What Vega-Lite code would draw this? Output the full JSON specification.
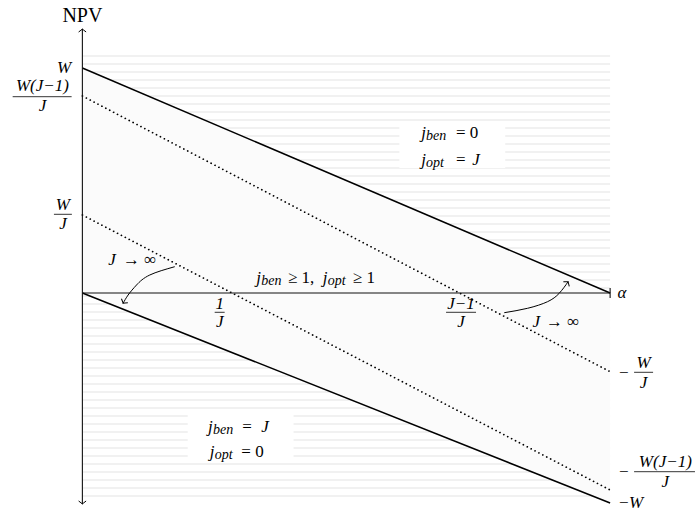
{
"$schema": "https://vega.github.io/schema/vega-lite/v6.json",
"width": 696, "height": 513,
"autosize": {"type": "fit", "contains": "padding"},
"padding": 0,
"background": "white",
"config": {"view": {"stroke": null}},
"datasets": {
"stripes": [{"a":0,"a2":1,"v":237},{"a":0,"a2":1,"v":229},{"a":0,"a2":1,"v":221},{"a":0,"a2":1,"v":213},{"a":0,"a2":1,"v":205},{"a":0,"a2":1,"v":197},{"a":0,"a2":1,"v":189},{"a":0,"a2":1,"v":181},{"a":0,"a2":1,"v":173},{"a":0,"a2":1,"v":165},{"a":0,"a2":1,"v":157},{"a":0,"a2":1,"v":149},{"a":0,"a2":1,"v":141},{"a":0,"a2":1,"v":133},{"a":0,"a2":1,"v":125},{"a":0,"a2":1,"v":117},{"a":0,"a2":1,"v":109},{"a":0,"a2":1,"v":101},{"a":0,"a2":1,"v":93},{"a":0,"a2":1,"v":85},{"a":0,"a2":1,"v":77},{"a":0,"a2":1,"v":69},{"a":0,"a2":1,"v":61},{"a":0,"a2":1,"v":53},{"a":0,"a2":1,"v":45},{"a":0,"a2":1,"v":37},{"a":0,"a2":1,"v":29},{"a":0,"a2":1,"v":21},{"a":0,"a2":1,"v":13},{"a":0,"a2":1,"v":5},{"a":0,"a2":1,"v":-3},{"a":0,"a2":1,"v":-11},{"a":0,"a2":1,"v":-19},{"a":0,"a2":1,"v":-27},{"a":0,"a2":1,"v":-35},{"a":0,"a2":1,"v":-43},{"a":0,"a2":1,"v":-51},{"a":0,"a2":1,"v":-59},{"a":0,"a2":1,"v":-67},{"a":0,"a2":1,"v":-75},{"a":0,"a2":1,"v":-83},{"a":0,"a2":1,"v":-91},{"a":0,"a2":1,"v":-99},{"a":0,"a2":1,"v":-107},{"a":0,"a2":1,"v":-115},{"a":0,"a2":1,"v":-123},{"a":0,"a2":1,"v":-131},{"a":0,"a2":1,"v":-139},{"a":0,"a2":1,"v":-147},{"a":0,"a2":1,"v":-155},{"a":0,"a2":1,"v":-163},{"a":0,"a2":1,"v":-171},{"a":0,"a2":1,"v":-179},{"a":0,"a2":1,"v":-187},{"a":0,"a2":1,"v":-195},{"a":0,"a2":1,"v":-203}],
"region": [{"a":0,"v":225,"v2":0},{"a":1,"v":0,"v2":-210}],
"boxes": [{"a":0.6007,"a2":0.8013,"v":168,"v2":125},{"a":0.1996,"a2":0.4002,"v":-119,"v2":-170}],
"solid": [{"id":"top","a":0,"v":225},{"id":"top","a":1,"v":0},{"id":"bottom","a":0,"v":0},{"id":"bottom","a":1,"v":-210}],
"dotted": [{"id":"d1","a":0,"v":197},{"id":"d1","a":1,"v":-78.7},{"id":"d2","a":0,"v":78},{"id":"d2","a":1,"v":-197}],
"axes": [{"a":0,"a2":1,"v":0,"v2":0},{"a":0,"a2":0,"v":264,"v2":-211},{"a":1,"a2":1,"v":5,"v2":-5}],
"curves": [
{"id":"L","i":0,"a":0.1750,"v":26.3},{"id":"L","i":1,"a":0.1277,"v":18},{"id":"L","i":2,"a":0.1026,"v":8},{"id":"L","i":3,"a":0.0867,"v":-2},{"id":"L","i":4,"a":0.0772,"v":-10.3},
{"id":"R","i":0,"a":0.7994,"v":-19.7},{"id":"R","i":1,"a":0.8435,"v":-15.3},{"id":"R","i":2,"a":0.8814,"v":-8.7},{"id":"R","i":3,"a":0.9035,"v":-0.3},{"id":"R","i":4,"a":0.9205,"v":11.3}],
"headUp": [{"a":0,"v":264}],
"headDown": [{"a":0,"v":-211}],
"headL": [{"a":0.0772,"v":-10.3}],
"headR": [{"a":0.9205,"v":11.3}],
"italL": [
{"a":0.6419,"v":160,"t":"j"},
{"a":0.6419,"v":133,"t":"j"},{"a":0.7389,"v":133,"t":"J"},
{"a":0.2380,"v":-133.7,"t":"j"},{"a":0.3391,"v":-133.7,"t":"J"},
{"a":0.2412,"v":-158.7,"t":"j"},
{"a":0.3296,"v":14.7,"t":"j"},
{"a":0.4556,"v":14.7,"t":"j"},
{"a":0.0488,"v":33,"t":"J"},
{"a":0.8530,"v":-28.7,"t":"J"},
{"a":1.0360,"v":-210.3,"t":"W"},
{"a":1.0138,"v":0,"t":"α"}],
"uprL": [
{"a":0.7080,"v":160,"t":"= 0"},
{"a":0.7080,"v":133,"t":"="},
{"a":0.3031,"v":-133.7,"t":"="},
{"a":0.3012,"v":-158.7,"t":"= 0"},
{"a":0.3894,"v":14.7,"t":"≥ 1,"},
{"a":0.5124,"v":14.7,"t":"≥ 1"},
{"a":0.0772,"v":33,"t":"→ ∞"},
{"a":0.8783,"v":-28.7,"t":"→ ∞"},
{"a":1.0170,"v":-210.3,"t":"−"},
{"a":1.0170,"v":-80,"t":"−"},
{"a":1.0170,"v":-178.7,"t":"−"}],
"subs": [
{"a":0.6513,"v":157,"t":"ben"},{"a":0.6513,"v":130,"t":"opt"},
{"a":0.2475,"v":-136.7,"t":"ben"},{"a":0.2507,"v":-161.7,"t":"opt"},
{"a":0.3391,"v":11.7,"t":"ben"},{"a":0.4651,"v":11.7,"t":"opt"}],
"mathC": [
{"a":-0.0346,"v":225,"t":"W"},
{"a":-0.0757,"v":207.5,"t":"W(J−1)"},{"a":-0.0757,"v":187.5,"t":"J"},
{"a":-0.0369,"v":88,"t":"W"},{"a":-0.0369,"v":69.5,"t":"J"},
{"a":1.0634,"v":-70,"t":"W"},{"a":1.0634,"v":-90,"t":"J"},
{"a":1.1046,"v":-168.5,"t":"W(J−1)"},{"a":1.1046,"v":-188.5,"t":"J"},
{"a":0.2602,"v":-10.5,"t":"1"},{"a":0.2602,"v":-28.5,"t":"J"},
{"a":0.7175,"v":-10.5,"t":"J−1"},{"a":0.7175,"v":-29,"t":"J"}],
"title": [{"a":0,"v":277.5,"t":"NPV"}],
"bars": [
{"a":-0.1321,"a2":-0.0204,"v":196.3},
{"a":-0.0539,"a2":-0.0199,"v":78.7},
{"a":1.0454,"a2":1.0814,"v":-79.3},
{"a":1.0454,"a2":1.1608,"v":-178.7},
{"a":0.2507,"a2":0.2696,"v":-19.3},
{"a":0.6891,"a2":0.7459,"v":-19.3}]
},
"encoding": {
"x": {"field":"a","type":"quantitative","scale":{"domain":[-0.1561,1.16083],"nice":false,"zero":false},"axis":null},
"y": {"field":"v","type":"quantitative","scale":{"domain":[-220,293],"nice":false,"zero":false},"axis":null}
},
"layer": [
{"data":{"name":"stripes"},"mark":{"type":"rule","stroke":"#e3e3e3","strokeWidth":1},
 "encoding":{"x2":{"field":"a2"}}},
{"data":{"name":"region"},"mark":{"type":"area","fill":"#fbfbfb"},
 "encoding":{"y2":{"field":"v2"}}},
{"data":{"name":"boxes"},"mark":{"type":"rect","fill":"white"},
 "encoding":{"x2":{"field":"a2"},"y2":{"field":"v2"}}},
{"data":{"name":"dotted"},"mark":{"type":"line","stroke":"black","strokeWidth":1.7,"strokeDash":[0.1,4.3],"strokeCap":"round"},
 "encoding":{"detail":{"field":"id"}}},
{"data":{"name":"solid"},"mark":{"type":"line","stroke":"black","strokeWidth":1.5},
 "encoding":{"detail":{"field":"id"}}},
{"data":{"name":"axes"},"mark":{"type":"rule","stroke":"#111","strokeWidth":1.1},
 "encoding":{"x2":{"field":"a2"},"y2":{"field":"v2"}}},
{"data":{"name":"curves"},"mark":{"type":"line","stroke":"black","strokeWidth":1,"interpolate":"natural"},
 "encoding":{"detail":{"field":"id"},"order":{"field":"i"}}},
{"data":{"name":"headUp"},"mark":{"type":"point","shape":"M-0.8,-1Q-0.25,-0.25,0,0Q-0.25,0.25,-0.8,1","filled":false,"stroke":"black","strokeWidth":1,"size":56,"angle":270,"opacity":1},"encoding":{}},
{"data":{"name":"headDown"},"mark":{"type":"point","shape":"M-0.8,-1Q-0.25,-0.25,0,0Q-0.25,0.25,-0.8,1","filled":false,"stroke":"black","strokeWidth":1,"size":56,"angle":90,"opacity":1},"encoding":{}},
{"data":{"name":"headL"},"mark":{"type":"point","shape":"M-0.8,-1Q-0.25,-0.25,0,0Q-0.25,0.25,-0.8,1","filled":false,"stroke":"black","strokeWidth":1,"size":56,"angle":121,"opacity":1},"encoding":{}},
{"data":{"name":"headR"},"mark":{"type":"point","shape":"M-0.8,-1Q-0.25,-0.25,0,0Q-0.25,0.25,-0.8,1","filled":false,"stroke":"black","strokeWidth":1,"size":56,"angle":-52,"opacity":1},"encoding":{}},
{"data":{"name":"bars"},"mark":{"type":"rule","stroke":"black","strokeWidth":0.8},
 "encoding":{"x2":{"field":"a2"}}},
{"data":{"name":"italL"},"mark":{"type":"text","font":"Liberation Serif","fontStyle":"italic","fontSize":17,"align":"left","baseline":"middle","fill":"black"},
 "encoding":{"text":{"field":"t"}}},
{"data":{"name":"uprL"},"mark":{"type":"text","font":"Liberation Serif","fontSize":17,"align":"left","baseline":"middle","fill":"black"},
 "encoding":{"text":{"field":"t"}}},
{"data":{"name":"subs"},"mark":{"type":"text","font":"Liberation Serif","fontStyle":"italic","fontSize":14,"align":"left","baseline":"middle","fill":"black"},
 "encoding":{"text":{"field":"t"}}},
{"data":{"name":"mathC"},"mark":{"type":"text","font":"Liberation Serif","fontStyle":"italic","fontSize":17,"align":"center","baseline":"middle","fill":"black"},
 "encoding":{"text":{"field":"t"}}},
{"data":{"name":"title"},"mark":{"type":"text","font":"Liberation Serif","fontSize":20,"align":"center","baseline":"middle","fill":"black"},
 "encoding":{"text":{"field":"t"}}}
]
}
